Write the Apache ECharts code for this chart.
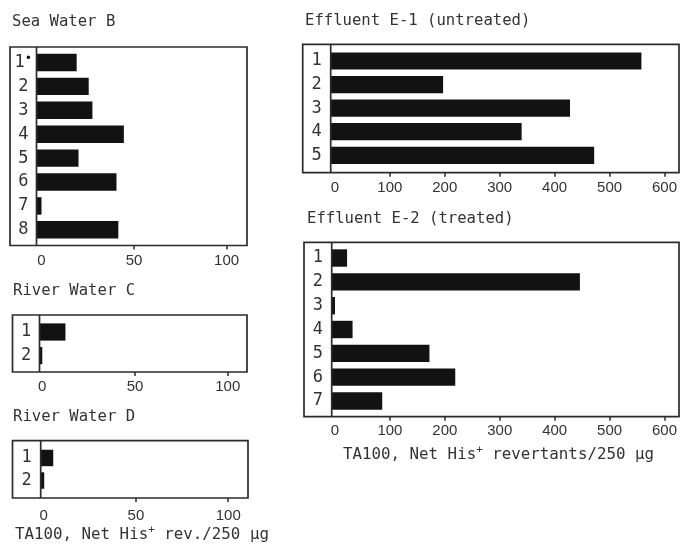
<!DOCTYPE html>
<html>
<head>
<meta charset="utf-8">
<script src="https://cdn.jsdelivr.net/npm/echarts@6/dist/echarts.min.js"></script>
<style>
  html, body { margin: 0; padding: 0; background: #fff; }
  #chart { width: 680px; height: 545px; }
</style>
</head>
<body>
<div id="chart"></div>
<script>
// categories
var catSeaB = ['1•', '2', '3', '4', '5', '6', '7', '8'];
var catRiverC = ['1', '2'];
var catRiverD = ['1', '2'];
var catE1 = ['1', '2', '3', '4', '5'];
var catE2 = ['1', '2', '3', '4', '5', '6', '7'];

// TA100, net His+ revertants
var seaB = [19, 25.5, 27.5, 44.5, 20, 40.5, 0, 41.5];
var riverC = [12.5, 0];
var riverD = [5.2, 0.3];
var effE1 = [558, 197, 428, 340, 472];
var effE2 = [22, 446, 0, 32, 172, 219, 86];

// tick labels
var ticksSmall = [0, 50, 100];
var ticksLarge = [0, 100, 200, 300, 400, 500, 600];

var lineColor = '#2b2b2b';
var textColor = '#333';
var monoFont = 'DejaVu Sans Mono';

// panel layout (box, divider, band span, value range)
var panels = [
  { title: 'Sea Water B', tx: 12, ty: 14, cats: catSeaB, data: seaB, ticks: ticksSmall,
    L: 10, T: 47, R: 247, B: 245.5, D: 36.5, bt: 50.5, bb: 241.8, min: -2.7, max: 111, margin: 8 },
  { title: 'River Water C', tx: 13, ty: 283, cats: catRiverC, data: riverC, ticks: ticksSmall,
    L: 12.5, T: 315, R: 247, B: 372, D: 39.5, bt: 320.2, bb: 367.4, min: -1.5, max: 110.4, margin: 7 },
  { title: 'River Water D', tx: 13, ty: 409, cats: catRiverD, data: riverD, ticks: ticksSmall,
    L: 12.5, T: 440.7, R: 248, B: 498, D: 40.7, bt: 446.7, bb: 491.8, min: -1.6, max: 110.7, margin: 10 },
  { title: 'Effluent E-1 (untreated)', tx: 305, ty: 13, cats: catE1, data: effE1, ticks: ticksLarge,
    L: 302.7, T: 44.3, R: 679, B: 172.7, D: 330.7, bt: 49.2, bb: 167.1, min: -7.6, max: 624.5, margin: 8 },
  { title: 'Effluent E-2 (treated)', tx: 307, ty: 211, cats: catE2, data: effE2, ticks: ticksLarge,
    L: 304, T: 242.3, R: 679, B: 416.7, D: 331.7, bt: 246.1, bb: 412.9, min: -6, max: 624.5, margin: 7 }
];

var titles = [], grids = [], xAxes = [], yAxes = [], series = [], graphics = [];

panels.forEach(function (p, k) {
  titles.push({
    text: p.title, left: p.tx, top: p.ty, padding: 0,
    textStyle: { fontFamily: monoFont, fontSize: 15.6, fontWeight: 'normal', color: textColor }
  });
  grids.push({ left: p.D, top: p.bt, width: p.R - p.D, height: p.bb - p.bt, show: false });
  xAxes.push({
    type: 'value', gridIndex: k, min: p.min, max: p.max, position: 'bottom',
    offset: p.B - p.bb,
    axisLine: { show: false },
    axisTick: { show: true, inside: false, length: 4, customValues: p.ticks.slice(1),
      lineStyle: { color: lineColor, width: 1.5 } },
    axisLabel: { customValues: p.ticks, margin: p.margin, color: textColor,
      fontFamily: 'Liberation Sans', fontSize: 15 },
    splitLine: { show: false }
  });
  yAxes.push({
    type: 'category', gridIndex: k, data: p.cats, inverse: true,
    axisLine: { show: false }, axisTick: { show: false },
    axisLabel: {
      align: 'center', margin: (p.D - p.L) / 2, color: textColor,
      fontFamily: monoFont, fontSize: 17,
      formatter: function (v) { return v.replace('•', '{d|•}'); },
      rich: { d: { fontSize: 12, padding: [0, 0, 8, 0], lineHeight: 12, color: '#111' } }
    }
  });
  series.push({
    type: 'custom', xAxisIndex: k, yAxisIndex: k,
    encode: { x: 0, y: 1 },
    data: p.data.map(function (v, i) { return [v, i]; }),
    renderItem: function (params, api) {
      var start = api.coord([p.min, api.value(1)]);
      var end = api.coord([api.value(0), api.value(1)]);
      var h = api.size([0, 1])[1] * 0.73;
      return {
        type: 'rect',
        shape: { x: start[0], y: end[1] - h / 2, width: end[0] - start[0], height: h },
        style: { fill: '#121212' }
      };
    }
  });
  graphics.push({
    type: 'rect', z: 10,
    shape: { x: p.L, y: p.T, width: p.R - p.L, height: p.B - p.T },
    style: { fill: 'none', stroke: lineColor, lineWidth: 1.7 }
  });
  graphics.push({
    type: 'line', z: 10,
    shape: { x1: p.D, y1: p.T, x2: p.D, y2: p.B },
    style: { stroke: lineColor, lineWidth: 1.7 }
  });
});

// axis captions
var captionStyle = {
  fontFamily: monoFont, fontSize: 15.8, fontWeight: 'normal', color: textColor, lineHeight: 18,
  rich: { sup: { fontFamily: monoFont, fontSize: 11, lineHeight: 11, padding: [0, 0, 9, 0], color: textColor } }
};
titles.push({ text: 'TA100, Net His{sup|+} rev./250 µg', left: 15, top: 526, padding: 0, textStyle: captionStyle });
titles.push({ text: 'TA100, Net His{sup|+} revertants/250 µg', left: 343, top: 446, padding: 0, textStyle: captionStyle });

var myChart = echarts.init(document.getElementById('chart'));
myChart.setOption({
  animation: false,
  title: titles,
  grid: grids,
  xAxis: xAxes,
  yAxis: yAxes,
  series: series,
  graphic: graphics
});
</script>
</body>
</html>
